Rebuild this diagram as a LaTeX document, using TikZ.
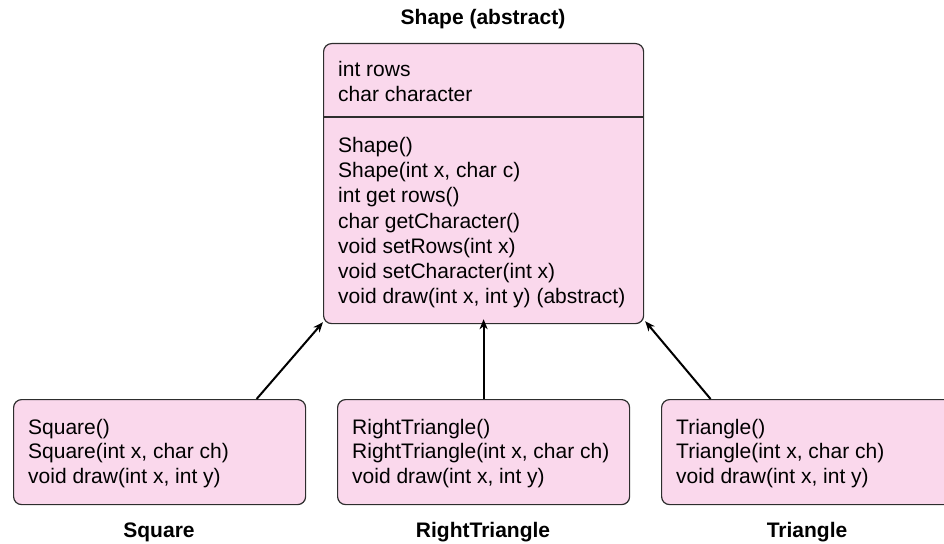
\documentclass[tikz,border=0pt]{standalone}
\usepackage{fontspec}
\setmainfont{Liberation Sans}
\usetikzlibrary{arrows.meta,calc}
\definecolor{pinkfill}{RGB}{250,216,236}
\definecolor{edgegray}{RGB}{45,45,45}
\tikzset{
  umlbox/.style={draw=edgegray, line width=1.2pt, fill=pinkfill, rounded corners=8pt, inner sep=0pt, anchor=north west},
  txt/.style={anchor=base west, inner sep=0pt, font=\fontsize{21}{25}\selectfont},
  lbl/.style={anchor=base, inner sep=0pt, font=\fontsize{21}{25}\selectfont\bfseries},
  inherit/.style={line width=2pt, -{Stealth[length=10pt,width=8pt,inset=3pt]}}
}
\begin{document}
\begin{tikzpicture}[x=1pt,y=-1pt]
\useasboundingbox (0,0) rectangle (944,543);
% boxes
\node[umlbox, minimum width=320pt, minimum height=280pt] (shape) at (323,43) {};
\draw[edgegray, line width=1.2pt] (shape.west |- 0,117) -- (shape.east |- 0,117);
\node[umlbox, minimum width=292pt, minimum height=105pt] (sq) at (13,399) {};
\node[umlbox, minimum width=292pt, minimum height=105pt] (rt) at (337,399) {};
\node[umlbox, minimum width=292pt, minimum height=105pt] (tri) at (661,399) {};
% titles
\node[lbl] (tshape) at (483,25) {Shape (abstract)};
\node[lbl] (tsq) at (159,537) {Square};
\node[lbl] (trt) at (483,537) {RightTriangle};
\node[lbl] (ttri) at (807,537) {Triangle};
% Shape attributes
\node[txt] (a1) at (338,76) {int rows};
\node[txt] (a2) at (338,101) {char character};
% Shape methods
\node[txt] (m1) at (338,152.5) {Shape()};
\node[txt] (m2) at (338,177.7) {Shape(int x, char c)};
\node[txt] (m3) at (338,202.9) {int get rows()};
\node[txt] (m4) at (338,228.1) {char getCharacter()};
\node[txt] (m5) at (338,253.3) {void setRows(int x)};
\node[txt] (m6) at (338,278.5) {void setCharacter(int x)};
\node[txt] (m7) at (338,303.7) {void draw(int x, int y) (abstract)};
% Square
\node[txt] (s1) at (28,434) {Square()};
\node[txt] (s2) at (28,458.5) {Square(int x, char ch)};
\node[txt] (s3) at (28,483) {void draw(int x, int y)};
% RightTriangle
\node[txt] (r1) at (352,434) {RightTriangle()};
\node[txt] (r2) at (352,458.5) {RightTriangle(int x, char ch)};
\node[txt] (r3) at (352,483) {void draw(int x, int y)};
% Triangle
\node[txt] (g1) at (676,434) {Triangle()};
\node[txt] (g2) at (676,458.5) {Triangle(int x, char ch)};
\node[txt] (g3) at (676,483) {void draw(int x, int y)};
% connectors
\draw[inherit] ($(sq.north)+(97,0)$) -- ($(shape.south west)+(0,-2)$);
\draw[inherit] (rt.north) -- ($(shape.south)+(0,-5)$);
\draw[inherit] ($(tri.north)+(-97,0)$) -- ($(shape.south east)+(1,-3)$);
\end{tikzpicture}
\end{document}
